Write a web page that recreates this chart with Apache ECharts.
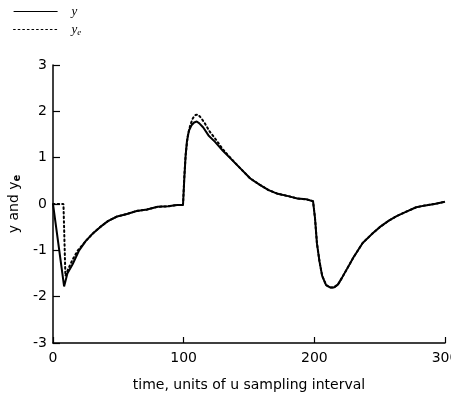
<!DOCTYPE html>
<html><head><meta charset="utf-8">
<script src="https://cdn.jsdelivr.net/npm/echarts@6/dist/echarts.min.js"></script>
<style>html,body{margin:0;padding:0;background:#fff}#c{width:451px;height:398px}</style>
</head><body><div id="c"></div>
<script>
const tY = [0,8.5,11,15,20,25,30,36,42,49,56,64,72,80,88,95,99.5,100.5,101.5,102.5,104,106,108,110,112,115,119,124,130,136,143,151,158,165,172,180,187,194,199,200.5,202,204,206,209,212,215,218,221,225,230,237,244,250,257,263,270,278,285,292,300];
const yVals = [0,-1.78,-1.5,-1.3,-1.0,-0.8,-0.65,-0.5,-0.37,-0.27,-0.22,-0.15,-0.12,-0.06,-0.05,-0.02,-0.02,0.55,1.05,1.35,1.58,1.7,1.76,1.78,1.74,1.65,1.48,1.34,1.15,0.98,0.78,0.55,0.42,0.3,0.22,0.17,0.12,0.1,0.06,-0.3,-0.85,-1.25,-1.55,-1.75,-1.8,-1.8,-1.74,-1.6,-1.4,-1.15,-0.84,-0.65,-0.5,-0.36,-0.26,-0.17,-0.07,-0.03,0.0,0.05];
const tYe = [0,8,9.5,12,15,19,22,25,30,36,42,49,56,64,72,80,88,95,99.5,100.5,101.5,103,105,107,109,111,113,116,120,125,130,136,143,151,158,165,172,180,187,194,199,200.5,202,204,206,209,212,215,218,221,225,230,237,244,250,257,263,270,278,285,292,300];
const yeVals = [0,0,-1.55,-1.38,-1.2,-1.0,-0.9,-0.8,-0.65,-0.5,-0.37,-0.27,-0.22,-0.15,-0.12,-0.06,-0.05,-0.02,-0.02,0.6,1.05,1.45,1.7,1.85,1.92,1.93,1.87,1.75,1.56,1.38,1.18,0.99,0.78,0.55,0.42,0.3,0.22,0.17,0.12,0.1,0.06,-0.3,-0.85,-1.25,-1.55,-1.75,-1.8,-1.8,-1.74,-1.6,-1.4,-1.15,-0.84,-0.65,-0.5,-0.36,-0.26,-0.17,-0.07,-0.03,0.0,0.05];
const xTicks = [0,100,200,300];
const yTicks = [-3,-2,-1,0,1,2,3];

const font = '"DejaVu Sans", sans-serif';
const serif = '"Liberation Serif", serif';
const chart = echarts.init(document.getElementById('c'), null, {renderer:'canvas'});
chart.setOption({
  backgroundColor:'#fff',
  animation:false,
  color:['#000','#000'],
  legend:{
    orient:'vertical', left:13, top:5, padding:0, itemWidth:44, itemHeight:10, itemGap:5,
    data:['y','ye'],
    itemStyle:{opacity:0},
    lineStyle:{width:1.2},
    textStyle:{fontFamily:serif, fontStyle:'italic', fontSize:13, color:'#000', padding:[0,0,0,9],
      rich:{i:{fontFamily:serif, fontStyle:'italic', fontSize:13, color:'#000'},
            s:{fontFamily:serif, fontStyle:'italic', fontSize:9, color:'#000', padding:[6,0,0,0]}}},
    formatter:function(n){return n==='y'?'{i|y}':'{i|y}{s|e}';}
  },
  grid:{left:53, right:6, top:65, bottom:55, outerBoundsMode:'none', containLabel:false},
  xAxis:{
    type:'value', min:0, max:300, interval:100,
    name:'time, units of u sampling interval', nameLocation:'middle', nameGap:35,
    nameTextStyle:{fontFamily:font, fontSize:14, color:'#000'},
    axisLine:{onZero:false, lineStyle:{color:'#000', width:1.5}},
    axisTick:{inside:true, length:6, lineStyle:{color:'#000', width:1.2}},
    axisLabel:{fontFamily:font, fontSize:14, color:'#000', margin:8, showMaxLabel:true},
    splitLine:{show:false}
  },
  yAxis:{
    type:'value', min:-3, max:3, interval:1,
    name:'{a|y and y}{b|e}', nameLocation:'middle', nameGap:30, nameRotate:90,
    nameTextStyle:{fontFamily:font, fontSize:14, color:'#000',
      rich:{a:{fontFamily:font, fontSize:14, color:'#000'},
            b:{fontFamily:font, fontSize:10, fontWeight:'bold', color:'#000', padding:[6,0,0,0]}}},
    axisLine:{show:true, onZero:false, lineStyle:{color:'#000', width:1.5}},
    axisTick:{show:true, inside:true, length:7, lineStyle:{color:'#000', width:1.2}},
    axisLabel:{fontFamily:font, fontSize:14, color:'#000', margin:6},
    splitLine:{show:false}
  },
  series:[
    {name:'ye', type:'line', data:tYe.map((t,i)=>[t,yeVals[i]]), symbol:'none', z:2,
     lineStyle:{color:'#000', width:2, type:[1.6,3], cap:'round'}},
    {name:'y', type:'line', data:tY.map((t,i)=>[t,yVals[i]]), symbol:'none', z:3,
     lineStyle:{color:'#000', width:2}}
  ]
});
</script></body></html>
